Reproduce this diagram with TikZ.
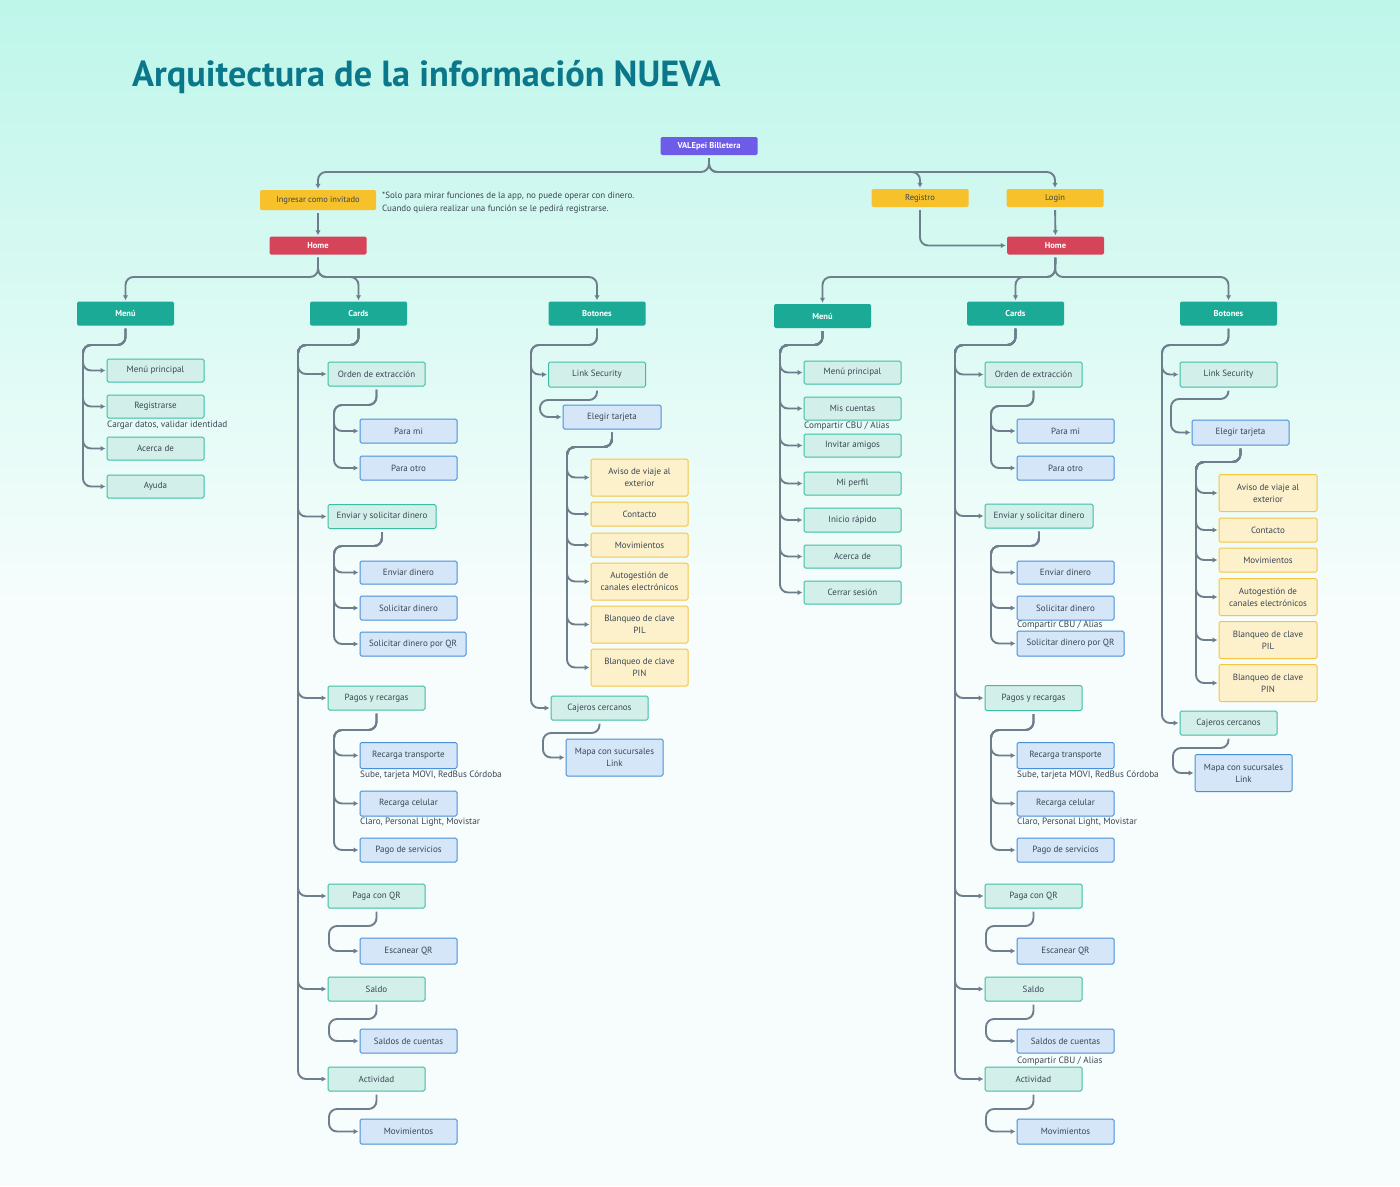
\documentclass[tikz,border=0pt]{standalone}
\usepackage{fontspec}
\setmainfont{PT Sans}
\usetikzlibrary{arrows.meta, calc, positioning}
\definecolor{mintbg}{RGB}{190,246,234}
\definecolor{softbg}{RGB}{246,253,252}
\definecolor{titleteal}{RGB}{10,120,138}
\definecolor{rootpurple}{RGB}{108,92,231}
\definecolor{entryyellow}{RGB}{246,193,42}
\definecolor{homered}{RGB}{213,68,89}
\definecolor{headteal}{RGB}{27,170,150}
\definecolor{itemfill}{RGB}{211,239,234}
\definecolor{itemline}{RGB}{60,190,165}
\definecolor{subfill}{RGB}{212,230,247}
\definecolor{subline}{RGB}{74,144,217}
\definecolor{optfill}{RGB}{253,241,204}
\definecolor{optline}{RGB}{245,197,66}
\definecolor{linkgray}{RGB}{110,126,140}
\definecolor{textdark}{RGB}{58,70,82}

\tikzset{
  box/.style={rectangle, rounded corners=1.5pt, minimum width=97pt, minimum height=24pt,
    inner sep=1pt, align=center, font=\fontsize{9}{12}\selectfont, text=textdark},
  rootbox/.style={box, fill=rootpurple, text=white, minimum height=18pt, font=\fontsize{8.5}{10}\selectfont\bfseries},
  entrybox/.style={box, fill=entryyellow, minimum height=18pt, font=\fontsize{8.5}{10}\selectfont},
  homebox/.style={box, fill=homered, text=white, minimum height=18pt, font=\fontsize{8.5}{10}\selectfont\bfseries},
  headbox/.style={box, fill=headteal, text=white, font=\fontsize{8.5}{10}\selectfont\bfseries},
  itembox/.style={box, fill=itemfill, draw=itemline, line width=1pt},
  subbox/.style={box, fill=subfill, draw=subline, line width=1pt},
  optbox/.style={box, fill=optfill, draw=optline, line width=1pt},
  tag/.style={anchor=west, inner sep=0pt, font=\fontsize{9.2}{10}\selectfont, text=textdark},
  conn/.style={draw=linkgray, line width=1.9pt, rounded corners=8pt,
    -{Latex[length=5pt,width=5.5pt]}, shorten <=3pt, shorten >=1pt},
}

\begin{document}
\begin{tikzpicture}[x=1pt, y=-1pt]
  % Background
  \useasboundingbox (0,0) rectangle (1400,1186);
  \shade[top color=mintbg, bottom color=softbg] (0,0) rectangle (1400,600);
  \fill[softbg] (0,600) rectangle (1400,1186);

  % Title
  \node[anchor=base west, inner sep=0pt, text=titleteal, font=\fontsize{36.3}{40}\selectfont\bfseries] (title) at (132,86) {Arquitectura de la información NUEVA};

  % Entry points
  \node[rootbox] (vale) at (709,146) {VALEpei Billetera};
  \node[entrybox, minimum width=116pt, minimum height=20pt] (guest) at (318,200) {Ingresar como invitado};
  \node[tag, align=left, font=\fontsize{9}{13}\selectfont] (guestnote) at (382,202.5) {*Solo para mirar funciones de la app, no puede operar con dinero.\\Cuando quiera realizar una función se le pedirá registrarse.};
  \node[entrybox] (reg) at (920,198) {Registro};
  \node[entrybox] (login) at (1055,198) {Login};
  \node[homebox] (homeL) at (318,245.5) {Home};
  \node[homebox] (homeR) at (1055.5,245.5) {Home};

  \coordinate (jTop) at (709,172);
  \foreach \n in {guest,reg,login}
    \draw[conn] (vale.south) -- (jTop) -| (\n.north);
  \draw[conn] (guest) -- (homeL);
  \draw[conn] (login) -- (homeR);
  \draw[conn] (reg.south) |- (homeR.west);

  % Headers
  \node[headbox] (menuL) at (125.5,313.5) {Menú};
  \node[headbox] (cardsL) at (358.5,313.5) {Cards};
  \node[headbox] (botL) at (597,313.5) {Botones};
  \node[headbox] (menuR) at (822.5,316) {Menú};
  \node[headbox] (cardsR) at (1015.5,313.5) {Cards};
  \node[headbox] (botR) at (1228.5,313.5) {Botones};

  \coordinate (jL) at (318,277);
  \coordinate (jR) at (1055,277);
  \foreach \h in {menuL,cardsL,botL}
    \draw[conn] (homeL.south) -- (jL) -| (\h.north);
  \foreach \h in {menuR,cardsR,botR}
    \draw[conn] (homeR.south) -- (jR) -| (\h.north);

  % ---------- Left: Menu
  \node[itembox, minimum height=23pt] (lm1) at (155.5,370.5) {Menú principal};
  \node[itembox, minimum height=23pt] (lm2) at (155.5,406.5) {Registrarse};
  \node[tag] (lm2tag) at (107,425.5) {Cargar datos, validar identidad};
  \node[itembox, minimum height=23pt] (lm3) at (155.5,448.5) {Acerca de};
  \node[itembox, minimum height=23pt] (lm4) at (155.5,486.5) {Ayuda};
  \coordinate (tMenuL) at (83,345);
  \foreach \c in {lm1,lm2,lm3,lm4}
    \draw[conn] (menuL.south) |- (tMenuL) |- (\c.west);

  % ---------- Left: Cards
  \node[itembox] (lc1) at (376.5,374) {Orden de extracción};
  \node[itembox, minimum width=108pt] (lc2) at (382,516.5) {Enviar y solicitar dinero};
  \node[itembox] (lc3) at (376.5,698) {Pagos y recargas};
  \node[itembox] (lc4) at (376.5,896) {Paga con QR};
  \node[itembox] (lc5) at (376.5,989) {Saldo};
  \node[itembox] (lc6) at (376.5,1079) {Actividad};
  \coordinate (tCardsL) at (298,345);
  \foreach \c in {lc1,lc2,lc3,lc4,lc5,lc6}
    \draw[conn] (cardsL.south) |- (tCardsL) |- (\c.west);

  \node[subbox] (lc1a) at (408.5,431) {Para mi};
  \node[subbox] (lc1b) at (408.5,468) {Para otro};
  \coordinate (tOrdenL) at (334,405);
  \foreach \c in {lc1a,lc1b}
    \draw[conn] (lc1.south) |- (tOrdenL) |- (\c.west);

  \node[subbox, minimum height=23pt] (lc2a) at (408.5,572.5) {Enviar dinero};
  \node[subbox] (lc2b) at (408.5,608) {Solicitar dinero};
  \node[subbox, minimum width=106pt] (lc2c) at (413,644) {Solicitar dinero por QR};
  \coordinate (tEnviarL) at (334,546);
  \foreach \c in {lc2a,lc2b,lc2c}
    \draw[conn] (lc2.south) |- (tEnviarL) |- (\c.west);

  \node[subbox, minimum height=26pt] (lc3a) at (408.5,755.5) {Recarga transporte};
  \node[tag] (lc3atag) at (360,775.5) {Sube, tarjeta MOVI, RedBus Córdoba};
  \node[subbox, minimum height=25pt] (lc3b) at (408.5,803.5) {Recarga celular};
  \node[tag] (lc3btag) at (360,822.5) {Claro, Personal Light, Movistar};
  \node[subbox] (lc3c) at (408.5,850) {Pago de servicios};
  \coordinate (tPagosL) at (334,730);
  \foreach \c in {lc3a,lc3b,lc3c}
    \draw[conn] (lc3.south) |- (tPagosL) |- (\c.west);

  \node[subbox, minimum height=26pt] (lc4a) at (408.5,951) {Escanear QR};
  \coordinate (tQrL) at (329,926);
  \draw[conn] (lc4.south) |- (tQrL) |- (lc4a.west);

  \node[subbox] (lc5a) at (408.5,1041) {Saldos de cuentas};
  \coordinate (tSaldoL) at (329,1019);
  \draw[conn] (lc5.south) |- (tSaldoL) |- (lc5a.west);

  \node[subbox, minimum height=25pt] (lc6a) at (408.5,1131.5) {Movimientos};
  \coordinate (tActL) at (329,1109);
  \draw[conn] (lc6.south) |- (tActL) |- (lc6a.west);

  % ---------- Left: Botones
  \node[itembox, minimum height=25pt] (lb1) at (597,374.5) {Link Security};
  \node[itembox] (lb2) at (599.5,708) {Cajeros cercanos};
  \coordinate (tBotL) at (531,345);
  \foreach \c in {lb1,lb2}
    \draw[conn] (botL.south) |- (tBotL) |- (\c.west);

  \node[subbox, minimum width=98pt] (lb1a) at (612,417) {Elegir tarjeta};
  \coordinate (tLinkL) at (540,400);
  \draw[conn] (lb1.south) |- (tLinkL) |- (lb1a.west);

  \node[optbox, minimum height=37pt] (lo1) at (639.5,477.5) {Aviso de viaje al\\exterior};
  \node[optbox] (lo2) at (639.5,514) {Contacto};
  \node[optbox] (lo3) at (639.5,545) {Movimientos};
  \node[optbox, minimum height=37pt] (lo4) at (639.5,581.5) {Autogestión de\\canales electrónicos};
  \node[optbox, minimum height=37pt] (lo5) at (639.5,624.5) {Blanqueo de clave\\PIL};
  \node[optbox, minimum height=37pt] (lo6) at (639.5,667.5) {Blanqueo de clave\\PIN};
  \coordinate (tTarjL) at (567,447);
  \foreach \c in {lo1,lo2,lo3,lo4,lo5,lo6}
    \draw[conn] (lb1a.south) |- (tTarjL) |- (\c.west);

  \node[subbox, minimum height=37pt] (lb2a) at (614.5,757.5) {Mapa con sucursales\\Link};
  \coordinate (tCajL) at (543,733);
  \draw[conn] (lb2.south) |- (tCajL) |- (lb2a.west);

  % ---------- Right: Menu
  \node[itembox, minimum height=23pt] (rm1) at (852.5,372.5) {Menú principal};
  \node[itembox, minimum height=23pt] (rm2) at (852.5,408.5) {Mis cuentas};
  \node[tag] (rm2tag) at (804,426) {Compartir CBU / Alias};
  \node[itembox, minimum height=23pt] (rm3) at (852.5,445.5) {Invitar amigos};
  \node[itembox, minimum height=23pt] (rm4) at (852.5,483.5) {Mi perfil};
  \node[itembox] (rm5) at (852.5,520) {Inicio rápido};
  \node[itembox, minimum height=23pt] (rm6) at (852.5,556.5) {Acerca de};
  \node[itembox, minimum height=23pt] (rm7) at (852.5,592.5) {Cerrar sesión};
  \coordinate (tMenuR) at (780,345);
  \foreach \c in {rm1,rm2,rm3,rm4,rm5,rm6,rm7}
    \draw[conn] (menuR.south) |- (tMenuR) |- (\c.west);

  % ---------- Right: Cards
  \node[itembox, minimum height=25pt] (rc1) at (1033.5,374.5) {Orden de extracción};
  \node[itembox, minimum width=108pt] (rc2) at (1039,516) {Enviar y solicitar dinero};
  \node[itembox, minimum height=25pt] (rc3) at (1033.5,698) {Pagos y recargas};
  \node[itembox] (rc4) at (1033.5,896) {Paga con QR};
  \node[itembox] (rc5) at (1033.5,989) {Saldo};
  \node[itembox] (rc6) at (1033.5,1079) {Actividad};
  \coordinate (tCardsR) at (955,345);
  \foreach \c in {rc1,rc2,rc3,rc4,rc5,rc6}
    \draw[conn] (cardsR.south) |- (tCardsR) |- (\c.west);

  \node[subbox] (rc1a) at (1065.5,431) {Para mi};
  \node[subbox] (rc1b) at (1065.5,468) {Para otro};
  \coordinate (tOrdenR) at (991,406);
  \foreach \c in {rc1a,rc1b}
    \draw[conn] (rc1.south) |- (tOrdenR) |- (\c.west);

  \node[subbox, minimum height=23pt] (rc2a) at (1065.5,572.5) {Enviar dinero};
  \node[subbox] (rc2b) at (1065.5,608) {Solicitar dinero};
  \node[tag] (rc2btag) at (1017,625) {Compartir CBU / Alias};
  \node[subbox, minimum width=107pt, minimum height=25pt] (rc2c) at (1070.5,643.5) {Solicitar dinero por QR};
  \coordinate (tEnviarR) at (991,546);
  \foreach \c in {rc2a,rc2b,rc2c}
    \draw[conn] (rc2.south) |- (tEnviarR) |- (\c.west);

  \node[subbox, minimum height=26pt] (rc3a) at (1065.5,755.5) {Recarga transporte};
  \node[tag] (rc3atag) at (1017,775.5) {Sube, tarjeta MOVI, RedBus Córdoba};
  \node[subbox, minimum height=25pt] (rc3b) at (1065.5,803.5) {Recarga celular};
  \node[tag] (rc3btag) at (1017,822.5) {Claro, Personal Light, Movistar};
  \node[subbox] (rc3c) at (1065.5,850) {Pago de servicios};
  \coordinate (tPagosR) at (991,730);
  \foreach \c in {rc3a,rc3b,rc3c}
    \draw[conn] (rc3.south) |- (tPagosR) |- (\c.west);

  \node[subbox, minimum height=26pt] (rc4a) at (1065.5,951) {Escanear QR};
  \coordinate (tQrR) at (986,926);
  \draw[conn] (rc4.south) |- (tQrR) |- (rc4a.west);

  \node[subbox] (rc5a) at (1065.5,1041) {Saldos de cuentas};
  \node[tag] (rc5atag) at (1017,1061) {Compartir CBU / Alias};
  \coordinate (tSaldoR) at (986,1019);
  \draw[conn] (rc5.south) |- (tSaldoR) |- (rc5a.west);

  \node[subbox, minimum height=25pt] (rc6a) at (1065.5,1131.5) {Movimientos};
  \coordinate (tActR) at (986,1109);
  \draw[conn] (rc6.south) |- (tActR) |- (rc6a.west);

  % ---------- Right: Botones
  \node[itembox, minimum height=25pt] (rb1) at (1228.5,374.5) {Link Security};
  \node[itembox] (rb2) at (1228.5,723) {Cajeros cercanos};
  \coordinate (tBotR) at (1162,345);
  \foreach \c in {rb1,rb2}
    \draw[conn] (botR.south) |- (tBotR) |- (\c.west);

  \node[subbox, minimum height=25pt] (rb1a) at (1240.5,432.5) {Elegir tarjeta};
  \coordinate (tLinkR) at (1171,399);
  \draw[conn] (rb1.south) |- (tLinkR) |- (rb1a.west);

  \node[optbox, minimum width=98pt, minimum height=37pt] (ro1) at (1268,493) {Aviso de viaje al\\exterior};
  \node[optbox, minimum width=98pt] (ro2) at (1268,530) {Contacto};
  \node[optbox, minimum width=98pt] (ro3) at (1268,560) {Movimientos};
  \node[optbox, minimum width=98pt, minimum height=37pt] (ro4) at (1268,597) {Autogestión de\\canales electrónicos};
  \node[optbox, minimum width=98pt, minimum height=37pt] (ro5) at (1268,640) {Blanqueo de clave\\PIL};
  \node[optbox, minimum width=98pt, minimum height=37pt] (ro6) at (1268,683) {Blanqueo de clave\\PIN};
  \coordinate (tTarjR) at (1196,462);
  \foreach \c in {ro1,ro2,ro3,ro4,ro5,ro6}
    \draw[conn] (rb1a.south) |- (tTarjR) |- (\c.west);

  \node[subbox, minimum height=37pt] (rb2a) at (1243.5,773) {Mapa con sucursales\\Link};
  \coordinate (tCajR) at (1173,748);
  \draw[conn] (rb2.south) |- (tCajR) |- (rb2a.west);
\end{tikzpicture}
\end{document}
